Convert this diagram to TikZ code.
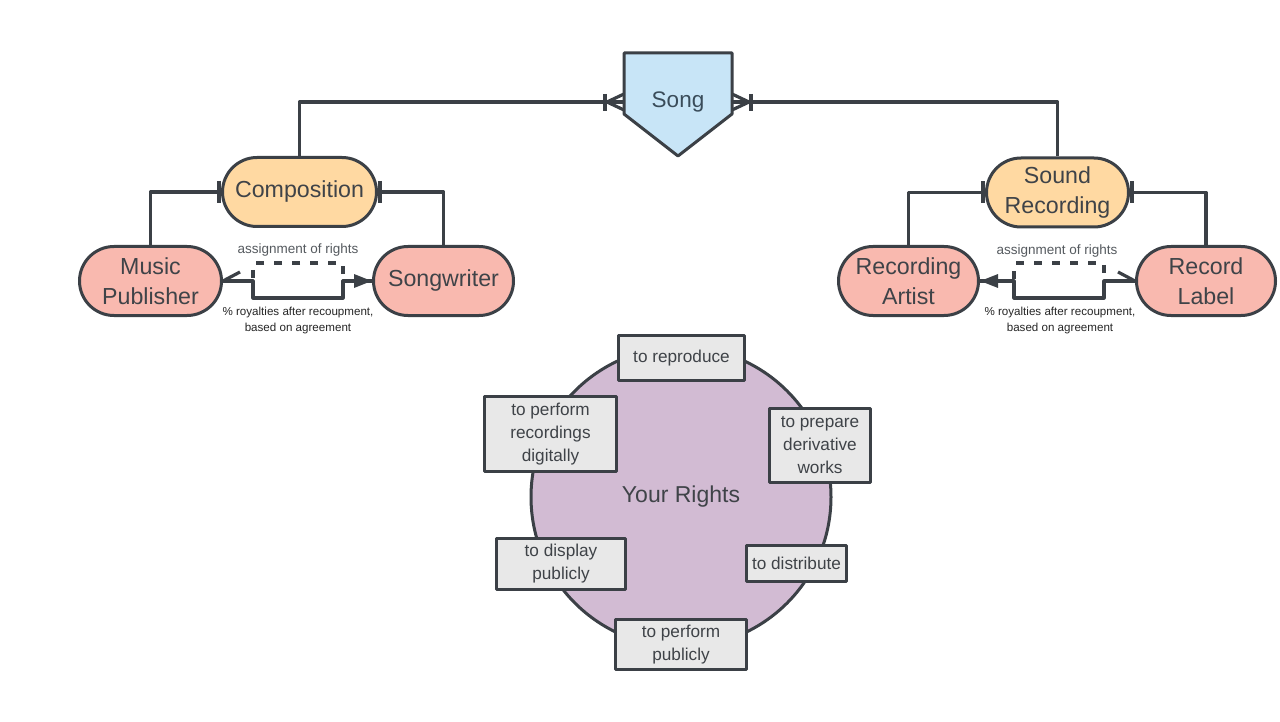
\documentclass[tikz,border=0pt]{standalone}
\usepackage{fontspec}
\setmainfont{Liberation Sans}
\usetikzlibrary{shapes.misc,arrows.meta}
\definecolor{edge}{HTML}{3B4046}
\definecolor{txt}{HTML}{3F4348}
\definecolor{songtxt}{HTML}{3A4C5A}
\definecolor{songf}{HTML}{C8E5F7}
\definecolor{orangef}{HTML}{FFD9A2}
\definecolor{salmon}{HTML}{F9B9AF}
\definecolor{purp}{HTML}{D2BBD3}
\definecolor{boxf}{HTML}{E8E8E8}
\definecolor{graytxt}{HTML}{555A5F}
\begin{document}
\begin{tikzpicture}[x=1pt,y=-1pt,line join=round,
  stadium/.style={rounded rectangle, draw=edge, line width=3pt, inner sep=0pt, align=center, text=txt},
  comp/.style={stadium, fill=orangef, minimum height=69pt, font=\fontsize{23.2}{30.5}\selectfont},
  party/.style={stadium, fill=salmon, minimum height=69pt, font=\fontsize{23.2}{30}\selectfont},
  rightbox/.style={draw=edge, fill=boxf, line width=3pt, align=center, inner sep=0pt, text=txt, font=\fontsize{17.2}{23}\selectfont},
  conn/.style={draw=edge, line width=3.2pt},
  assign/.style={text=graytxt, font=\fontsize{13.5}{15}\selectfont},
  roylabel/.style={text=black!85, align=center, font=\fontsize{11.6}{16}\selectfont},
  arr/.style={-{Triangle[length=18pt,width=13pt]}},
  dashcon/.style={conn, dash pattern=on 8pt off 10pt}
]
\useasboundingbox[fill=white] (0,0) rectangle (1280,722);

% Song
\fill[songf] (624,53) -- (732,53) -- (732,114) -- (678,156) -- (624,114) -- cycle;
\draw[edge, line width=3pt] (624,53) -- (732,53) -- (732,114) -- (678,156) -- (624,114) -- cycle;
\node[text=songtxt, font=\fontsize{22.5}{30}\selectfont] (song) at (678,102) {Song};
\coordinate (songL) at (624,102);
\coordinate (songR) at (732,102);

% Composition side
\node[comp, minimum width=154pt] (comp) at (299.5,192) {Composition};
\node[party, minimum width=142pt] (mp) at (150.5,281) {Music\\Publisher};
\node[party, minimum width=140pt] (sw) at (443.5,281) {Songwriter};

% Sound recording side
\node[comp, minimum width=142pt] (sr) at (1057.5,192.5) {Sound\\Recording};
\node[party, minimum width=140pt] (ra) at (908.5,281) {Recording\\Artist};
\node[party, minimum width=139pt] (rl) at (1206,281) {Record\\Label};

% connectors to song
\draw[conn] (comp.north) |- (songL);
\draw[conn] (sr.north) |- (songR);
\draw[conn] (605,94) -- (605,111);
\draw[conn] (624,94) -- (607,102) -- (624,110);
\draw[conn] (751,94) -- (751,111);
\draw[conn] (732,94) -- (749,102) -- (732,110);

% composition to parties
\draw[conn] (comp.west) -| (mp.north);
\draw[conn] (comp.east) -| (sw.north);
\draw[conn] ([xshift=-2pt]comp.west) ++(0,-11) -- ++(0,22);
\draw[conn] ([xshift=2pt]comp.east) ++(0,-11) -- ++(0,22);

\draw[conn] (sr.west) -| (ra.north);
\draw[conn] (sr.east) -| (rl.north);
\draw[conn] ([xshift=-2pt]sr.west) ++(0,-11) -- ++(0,22);
\draw[conn] ([xshift=2pt]sr.east) ++(0,-11) -- ++(0,22);

% left royalty connectors
\draw[dashcon] (sw.west) -- (343,281) -- (343,263) -- (253,263) -- (253,281) -- (mp.east);
\draw[conn, arr] (mp.east) -- (253,281) -- (253,298) -- (343,298) -- (343,281) -- (sw.west);
\draw[conn] (mp.east) -- ++(17,-9);
\node[assign] (al) at (298,250) {assignment of rights};
\node[roylabel] (rlab) at (298,320) {\% royalties after recoupment,\\based on agreement};

% right royalty connectors
\draw[dashcon] (ra.east) -- (1014,281) -- (1014,263) -- (1104,263) -- (1104,281) -- (rl.west);
\draw[conn, arr] (rl.west) -- (1104,281) -- (1104,298) -- (1014,298) -- (1014,281) -- (ra.east);
\draw[conn] (rl.west) -- ++(-17,-9);
\node[assign] (ar) at (1057,251) {assignment of rights};
\node[roylabel] (rrab) at (1060,320) {\% royalties after recoupment,\\based on agreement};

% Your Rights
\node[circle, draw=edge, fill=purp, line width=3pt, minimum size=300pt, inner sep=0pt,
      text=txt, font=\fontsize{23}{28}\selectfont] (rights) at (681,497) {Your Rights};
\node[rightbox, minimum width=126pt, minimum height=45pt] (rep) at (681.5,358) {to reproduce};
\node[rightbox, minimum width=132pt, minimum height=75pt] (prd) at (550.5,434) {to perform\\recordings\\digitally};
\node[rightbox, minimum width=101pt, minimum height=74pt] (prep) at (820,445.5) {to prepare\\derivative\\works};
\node[rightbox, minimum width=129pt, minimum height=51pt] (disp) at (561,564) {to display\\publicly};
\node[rightbox, minimum width=100pt, minimum height=36pt] (dist) at (796.5,563.5) {to distribute};
\node[rightbox, minimum width=131pt, minimum height=50pt] (pub) at (681,644.5) {to perform\\publicly};
\end{tikzpicture}
\end{document}
